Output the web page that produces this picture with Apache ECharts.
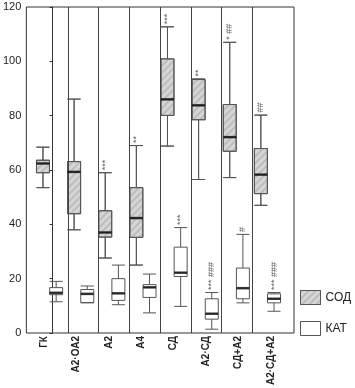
<!DOCTYPE html>
<html><head><meta charset="utf-8">
<script src="https://cdn.jsdelivr.net/npm/echarts@6/dist/echarts.min.js"></script>
<style>html,body{margin:0;padding:0;background:#fff}#c{width:355px;height:388px}</style>
</head><body><div id="c"></div>
<script>
const categories = ['ГК','А2·ОА2','А2','А4','СД','А2·СД','СД+А2','А2·СД+А2'];
// [min, Q1, median, Q3, max]
const sodValues = [
  [53.5, 59.0, 62.4, 63.6, 68.4],
  [38.0, 43.9, 59.3, 63.1, 86.1],
  [27.6, 35.3, 37.0, 45.0, 59.0],
  [25.0, 35.2, 42.3, 53.5, 69.0],
  [68.8, 80.1, 86.0, 100.9, 112.7],
  [56.5, 78.5, 83.8, 93.3, 93.5],
  [57.2, 66.9, 72.1, 84.1, 107.0],
  [47.0, 51.3, 58.3, 67.9, 80.2]
];
const katValues = [
  [11.5, 14.1, 14.8, 16.7, 19.0],
  [11.1, 11.2, 14.4, 16.0, 17.3],
  [10.4, 12.0, 14.6, 20.0, 25.0],
  [7.4, 13.1, 16.8, 17.8, 21.7],
  [9.8, 20.8, 22.2, 31.6, 38.8],
  [1.4, 5.1, 7.1, 12.6, 14.9],
  [11.1, 12.6, 16.5, 23.9, 36.3],
  [8.0, 11.1, 12.6, 14.4, 14.9]
];
const sodMarks = ['', '', '***', '**', '***', '**', '* ##', '##'];
const katMarks = ['', '', '', '', '***', '*** ###', '#', '*** ###'];
const seriesNames = ['СОД', 'КАТ'];
const yMin = 0, yMax = 120, yStep = 20;
const separators = [0.5, 1.5, 2.5, 3.5, 4.5, 5.5, 6.5];

const FONT = 'Liberation Sans, Arial, sans-serif';
const BOX_OFF = 6.58;
const hatch = {
  symbol: 'rect', symbolSize: 1, dashArrayX: [1, 0], dashArrayY: [1.5, 2.5],
  rotation: -Math.PI / 4, color: 'rgba(140,140,140,0.35)'
};
const sodStyle = { color: '#d6d6d6', borderColor: '#555', borderWidth: 1, decal: hatch };
const katStyle = { color: '#ffffff', borderColor: '#555', borderWidth: 1 };

function medianData(vals) { return vals.map((d, i) => [i, d[2]]); }
function markData(vals, marks) {
  const out = [];
  vals.forEach((d, i) => { if (marks[i]) out.push({ value: [i, d[4]], mark: marks[i] }); });
  return out;
}
function markSeries(vals, marks, off) {
  return {
    type: 'scatter', xAxisIndex: 1, yAxisIndex: 1, data: markData(vals, marks),
    symbol: 'rect', symbolSize: [1, 1], symbolOffset: [off, 0],
    itemStyle: { color: 'rgba(0,0,0,0)' }, silent: true, z: 10,
    label: {
      show: true, position: 'top', distance: 2, rotate: 90, align: 'left', verticalAlign: 'middle',
      fontSize: 9, fontFamily: FONT, color: '#333',
      formatter: p => p.data.mark
    }
  };
}
function medianSeries(vals, off) {
  return {
    type: 'scatter', xAxisIndex: 1, yAxisIndex: 1, data: medianData(vals),
    symbol: 'rect', symbolSize: [13, 2.5], symbolOffset: [off, 0],
    itemStyle: { color: '#111' }, silent: true, z: 10
  };
}

const chart = echarts.init(document.getElementById('c'), null, { renderer: 'canvas' });
chart.setOption({
  animation: false,
  backgroundColor: '#fff',
  grid: [
    { left: 23, right: 61, top: 7, bottom: 55, show: true, borderColor: '#333', borderWidth: 1, backgroundColor: 'transparent' },
    { left: 34, right: 72, top: 7, bottom: 55 },
    { left: 28, right: 68, top: 7, bottom: 55 }
  ],
  xAxis: [
    { type: 'value', gridIndex: 0, min: -0.851, max: 7.849, show: false },
    { type: 'category', gridIndex: 1, data: categories, show: false },
    { type: 'category', gridIndex: 2, data: categories,
      axisLine: { show: false }, axisTick: { show: false }, splitLine: { show: false },
      axisLabel: { rotate: 90, margin: 5, fontSize: 10, fontWeight: 'bold', fontFamily: FONT, color: '#222', interval: 0 } }
  ],
  yAxis: [
    { type: 'value', gridIndex: 0, min: yMin, max: yMax, interval: yStep,
      axisLine: { show: true, lineStyle: { color: '#333', width: 1 } },
      axisTick: { show: true, length: 3, lineStyle: { color: '#333' } },
      splitLine: { show: false },
      axisLabel: { fontSize: 11, fontFamily: FONT, color: '#222', margin: 5 } },
    { type: 'value', gridIndex: 1, min: yMin, max: yMax, interval: yStep, show: false },
    { type: 'value', gridIndex: 2, min: yMin, max: yMax, show: false }
  ],
  legend: {
    data: [
      { name: seriesNames[0], itemStyle: sodStyle },
      { name: seriesNames[1], itemStyle: katStyle }
    ],
    orient: 'vertical', left: 300, top: 290, padding: 0,
    itemWidth: 20, itemHeight: 14, itemGap: 16, icon: 'rect',
    textStyle: { fontSize: 12, fontFamily: FONT, color: '#222' },
    selectedMode: false
  },
  series: [
    { type: 'line', xAxisIndex: 0, yAxisIndex: 0, data: [], silent: true,
      markLine: { silent: true, symbol: ['none', 'none'], label: { show: false },
        lineStyle: { color: '#444', width: 1, type: 'solid' },
        emphasis: { disabled: true },
        data: separators.map(x => ({ xAxis: x })) } },
    { name: seriesNames[0], type: 'boxplot', xAxisIndex: 1, yAxisIndex: 1, data: sodValues,
      boxWidth: [13, 13], silent: true, itemStyle: sodStyle },
    { name: seriesNames[1], type: 'boxplot', xAxisIndex: 1, yAxisIndex: 1, data: katValues,
      boxWidth: [13, 13], silent: true, itemStyle: katStyle },
    medianSeries(sodValues, -BOX_OFF),
    medianSeries(katValues, BOX_OFF),
    markSeries(sodValues, sodMarks, -BOX_OFF),
    markSeries(katValues, katMarks, BOX_OFF)
  ]
});
</script></body></html>
